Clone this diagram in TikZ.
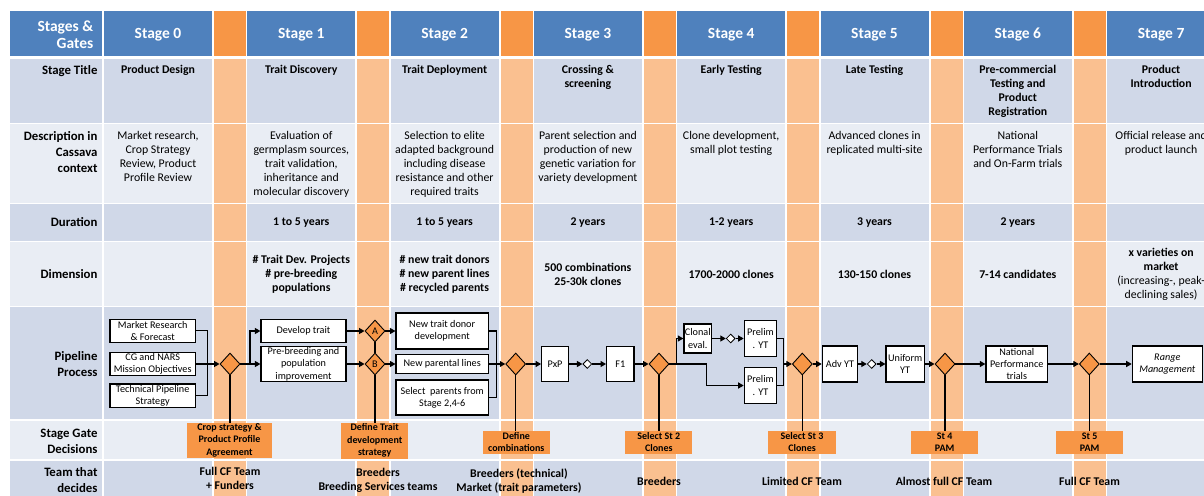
\documentclass[tikz,border=0pt]{standalone}
\usepackage{fontspec}
\setmainfont{Carlito}
\usetikzlibrary{shapes.geometric,arrows.meta}
\definecolor{hblue}{HTML}{4F81BD}
\definecolor{gorange}{HTML}{F79646}
\definecolor{glight}{HTML}{FAC090}
\definecolor{rowA}{HTML}{D0D8E8}
\definecolor{rowB}{HTML}{E9EDF4}
\newcommand\fntHead{\fontsize{15.5}{17.5}\selectfont\bfseries}
\newcommand\fntLab{\fontsize{12.8}{16}\selectfont\bfseries}
\newcommand\fntBody{\fontsize{11.8}{14}\selectfont}
\newcommand\fntPipe{\fontsize{10.2}{12.3}\selectfont}
\newcommand\fntDec{\fontsize{10}{12.6}\selectfont\bfseries}
\begin{document}
\begin{tikzpicture}[x=1pt,y=-1pt,
  txt/.style={inner sep=0pt, align=center},
  lab/.style={inner sep=0pt, align=right, font=\fntLab},
  pbox/.style={draw, line width=1.2pt, fill=white, inner sep=0pt, align=center, font=\fntPipe},
  gdia/.style={diamond, draw, line width=0.9pt, fill=gorange, inner sep=0pt, minimum width=20pt, minimum height=22pt, font=\fntPipe},
  sdia/.style={diamond, draw, line width=0.8pt, fill=white, inner sep=0pt, minimum width=9pt, minimum height=9pt},
  dec/.style={fill=gorange, inner sep=0pt, align=center, font=\fntDec},
  conn/.style={line width=1.2pt},
  arr/.style={conn, -{Triangle[length=5.5pt,width=6pt]}},
]
\useasboundingbox (0,0) rectangle (1204,495);
\clip (0,0) rectangle (1204,495);
\fill[white] (0,0) rectangle (1204,495);
% header row
\fill[hblue] (10,11) rectangle (101.7,55.7);
\foreach \i in {0,...,7} {\fill[hblue] ({104+143.3*\i},11) rectangle ({212+143.3*\i},55.7);}
\foreach \i in {0,...,6} {\fill[gorange] ({214+143.3*\i},11) rectangle ({246+143.3*\i},55.7);}
% body rows
\foreach \rt/\rb/\rc in {59.3/122.7/rowA,124.2/202.7/rowB,204.3/240.7/rowA,242.2/305.7/rowB,307.3/419/rowA,420.7/459/rowB,461/500/rowA}{
  \fill[\rc] (10,\rt) rectangle (101.7,\rb);
  \foreach \i in {0,...,7} {\fill[\rc] ({104+143.3*\i},\rt) rectangle ({212+143.3*\i},\rb);}
  \foreach \i in {0,...,6} {\fill[glight] ({214+143.3*\i},\rt) rectangle ({246+143.3*\i},\rb);}
}
% header texts
\node[txt, anchor=east, align=right, text=white, font=\fntHead] (hl) at (93.5,34.5) {Stages \&\\Gates};
\foreach \i in {0,...,7} {\node[txt, text=white, font=\fntHead] (h\i) at ({158+143.3*\i},34.5) {Stage \i};}
% labels
\node[lab, anchor=north east] (lt) at (97.7,65.5) {Stage Title};
\node[lab, anchor=north east] (ld) at (97.7,131.5) {Description in\\Cassava\\context};
\node[lab, anchor=east] (lu) at (97.7,222.5) {Duration};
\node[lab, anchor=east] (lm) at (97.7,274.3) {Dimension};
\node[lab, anchor=east] (lp) at (97.7,364) {Pipeline\\Process};
\node[lab, anchor=east] (lg) at (97.7,441) {Stage Gate\\Decisions};
\node[lab, anchor=north east] (lw) at (97.7,467) {Team that\\decides};
% stage titles
\begin{scope}[every node/.style={txt, anchor=north, font=\fntBody\bfseries}]
\node (t0) at (158,65.5) {Product Design};
\node (t1) at (301.3,65.5) {Trait Discovery};
\node (t2) at (444.6,65.5) {Trait Deployment};
\node (t3) at (587.9,65.5) {Crossing \&\\screening};
\node (t4) at (731.2,65.5) {Early Testing};
\node (t5) at (874.5,65.5) {Late Testing};
\node (t6) at (1017.8,65.5) {Pre-commercial\\Testing and\\Product\\Registration};
\node (t7) at (1161.1,65.5) {Product\\Introduction};
\end{scope}
% descriptions
\begin{scope}[every node/.style={txt, anchor=north, font=\fntBody}]
\node (e0) at (158,131.5) {Market research,\\Crop Strategy\\Review, Product\\Profile Review};
\node (e1) at (301.3,131.5) {Evaluation of\\germplasm sources,\\trait validation,\\inheritance and\\molecular discovery};
\node (e2) at (444.6,131.5) {Selection to elite\\adapted background\\including disease\\resistance and other\\required traits};
\node (e3) at (587.9,131.5) {Parent selection and\\production of new\\genetic variation for\\variety development};
\node (e4) at (731.2,131.5) {Clone development,\\small plot testing};
\node (e5) at (874.5,131.5) {Advanced clones in\\replicated multi-site};
\node (e6) at (1017.8,131.5) {National\\Performance Trials\\and On-Farm trials};
\node (e7) at (1161.1,131.5) {Official release and\\product launch};
\end{scope}
% duration
\begin{scope}[every node/.style={txt, font=\fntBody\bfseries}]
\node (u1) at (301.3,222.5) {1 to 5 years};
\node (u2) at (444.6,222.5) {1 to 5 years};
\node (u3) at (587.9,222.5) {2 years};
\node (u4) at (731.2,222.5) {1-2 years};
\node (u5) at (874.5,222.5) {3 years};
\node (u6) at (1017.8,222.5) {2 years};
% dimension
\node (m1) at (301.3,274.5) {\# Trait Dev. Projects\\\# pre-breeding\\populations};
\node (m2) at (444.6,274.5) {\# new trait donors\\\# new parent lines\\\# recycled parents};
\node (m3) at (587.9,274.5) {500 combinations\\25-30k clones};
\node (m4) at (731.2,274.5) {1700-2000 clones};
\node (m5) at (874.5,274.5) {130-150 clones};
\node (m6) at (1017.8,274.5) {7-14 candidates};
\node (m7) at (1161.1,274.5) {x varieties on\\market\\{\mdseries (increasing-, peak-}\\{\mdseries declining sales)}};
% team
\node[anchor=north] (w0) at (230,467) {Full CF Team\\+ Funders};
\node[anchor=north] (w1) at (378,468.5) {Breeders\\Breeding Services teams};
\node[anchor=north] (w2) at (519,468.5) {Breeders (technical)\\Market (trait parameters)};
\node (w3) at (659,481.7) {Breeders};
\node (w4) at (802,481.7) {Limited CF Team};
\node (w5) at (944,481.7) {Almost full CF Team};
\node (w6) at (1089.5,481.7) {Full CF Team};
\end{scope}
% pipeline boxes
\node[pbox, minimum width=85.5pt, minimum height=23pt] (mr) at (152.7,330.8) {Market Research\\\& Forecast};
\node[pbox, minimum width=85.5pt, minimum height=23.4pt] (cg) at (152.7,364) {CG and NARS\\Mission Objectives};
\node[pbox, minimum width=85.5pt, minimum height=23.3pt] (tp) at (152.7,395.7) {Technical Pipeline\\Strategy};
\node[pbox, minimum width=85pt, minimum height=22.7pt] (dev) at (303.5,331) {Develop trait};
\node[pbox, minimum width=85pt, minimum height=35.7pt] (pre) at (303.5,364) {Pre-breeding and\\population\\improvement};
\node[pbox, minimum width=92.3pt, minimum height=36pt] (ntd) at (442.2,331) {New trait donor\\development};
\node[pbox, minimum width=92.3pt, minimum height=18.3pt] (npl) at (442.2,364) {New parental lines};
\node[pbox, minimum width=92.3pt, minimum height=35pt] (sel) at (442.2,397.5) {Select~ parents from\\Stage 2,4-6};
\node[pbox, minimum width=26.6pt, minimum height=35.7pt] (pxp) at (555,364) {PxP};
\node[pbox, minimum width=27.3pt, minimum height=35.7pt] (f1) at (620.3,364) {F1};
\node[pbox, minimum width=27.7pt, minimum height=29pt] (clon) at (697.8,338.5) {Clonal\\eval.};
\node[pbox, minimum width=32.4pt, minimum height=35.6pt] (prel1) at (760.5,338.5) {Prelim\\. YT};
\node[pbox, minimum width=32.4pt, minimum height=35.6pt] (prel2) at (760.5,385.5) {Prelim\\. YT};
\node[pbox, minimum width=35.4pt, minimum height=36pt] (adv) at (840,364) {Adv YT};
\node[pbox, minimum width=38.3pt, minimum height=36pt] (uni) at (905.2,364) {Uniform\\YT};
\node[pbox, minimum width=61.7pt, minimum height=36pt] (np) at (1016.8,364) {National\\Performance\\trials};
\node[pbox, minimum width=70pt, minimum height=36pt, font=\fntPipe\itshape] (rm) at (1167.3,364) {Range\\Management};
% diamonds
\node[gdia] (d0) at (230,364) {};
\node[gdia] (dA) at (375,331) {A};
\node[gdia] (dB) at (375,364) {B};
\node[gdia] (d2) at (515.7,364) {};
\node[gdia] (d3) at (659,364) {};
\node[gdia] (d4) at (802.3,364) {};
\node[gdia] (d5) at (945,364) {};
\node[gdia] (d6) at (1089.3,364) {};
\node[sdia] (s1) at (587.3,364) {};
\node[sdia] (s2) at (730.7,338.5) {};
\node[sdia] (s3) at (871.7,364) {};
% decision boxes
\node[dec, minimum width=84.4pt, minimum height=35pt] (dec0) at (229.5,440.2) {Crop strategy \&\\Product Profile\\Agreement};
\node[dec, minimum width=67.3pt, minimum height=36pt] (dec1) at (374.7,440.7) {Define Trait\\development\\strategy};
\node[dec, minimum width=67.3pt, minimum height=23pt] (dec2) at (516.3,442.2) {Define\\combinations};
\node[dec, minimum width=67pt, minimum height=23pt] (dec3) at (658.8,442.2) {Select St 2\\Clones};
\node[dec, minimum width=67.3pt, minimum height=23pt] (dec4) at (802,442.2) {Select St 3\\Clones};
\node[dec, minimum width=67.3pt, minimum height=23pt] (dec5) at (944.7,442.2) {St 4\\PAM};
\node[dec, minimum width=67.3pt, minimum height=23pt] (dec6) at (1089.7,442.2) {St 5\\PAM};
% junctions
\coordinate (j0) at (207.3,364);
\coordinate (j1) at (250,364);
\coordinate (j2) at (496.7,364);
\coordinate (j3) at (676.7,364);
\coordinate (j3b) at (706.7,364);
\coordinate (j4) at (783.7,364);
% connectors
\draw[conn] (mr.east) -| (j0);
\draw[conn] (tp.east) -| (j0);
\draw[arr] (cg.east) -- (d0.west);
\draw[arr] (d0.east) -- (pre.west);
\draw[arr] (j1) |- (dev.west);
\draw[arr] (dev.east) -- (dA.west);
\draw[arr] (pre.east) -- (dB.west);
\draw[conn] (dA.south) -- (dB.north);
\draw[arr] (dA.east) -- (ntd.west);
\draw[arr] (dB.east) -- (npl.west);
\draw[conn] (ntd.east) -| (j2);
\draw[conn] (sel.east) -| (j2);
\draw[arr] (npl.east) -- (d2.west);
\draw[arr] (d2.east) -- (pxp.west);
\draw[arr] (pxp.east) -- (s1.west);
\draw[arr] (s1.east) -- (f1.west);
\draw[arr] (f1.east) -- (d3.west);
\draw[conn] (d3.east) -- (j3b);
\draw[arr] (j3) |- (clon.west);
\draw[arr] (j3b) |- (prel2.west);
\draw[arr] (clon.east) -- (s2.west);
\draw[arr] (s2.east) -- (prel1.west);
\draw[conn] (prel1.east) -| (j4);
\draw[conn] (prel2.east) -| (j4);
\draw[arr] (j4) -- (d4.west);
\draw[arr] (d4.east) -- (adv.west);
\draw[arr] (adv.east) -- (s3.west);
\draw[arr] (s3.east) -- (uni.west);
\draw[arr] (uni.east) -- (d5.west);
\draw[arr] (d5.east) -- (np.west);
\draw[arr] (np.east) -- (d6.west);
\draw[arr] (d6.east) -- (rm.west);
\draw[conn] (d0.south) -- (d0.south |- dec0.north);
\draw[conn] (dB.south) -- (dB.south |- dec1.north);
\draw[conn] (d2.south) -- (d2.south |- dec2.north);
\draw[conn] (d3.south) -- (d3.south |- dec3.north);
\draw[conn] (d4.south) -- (d4.south |- dec4.north);
\draw[conn] (d5.south) -- (d5.south |- dec5.north);
\draw[conn] (d6.south) -- (d6.south |- dec6.north);
\end{tikzpicture}
\end{document}
